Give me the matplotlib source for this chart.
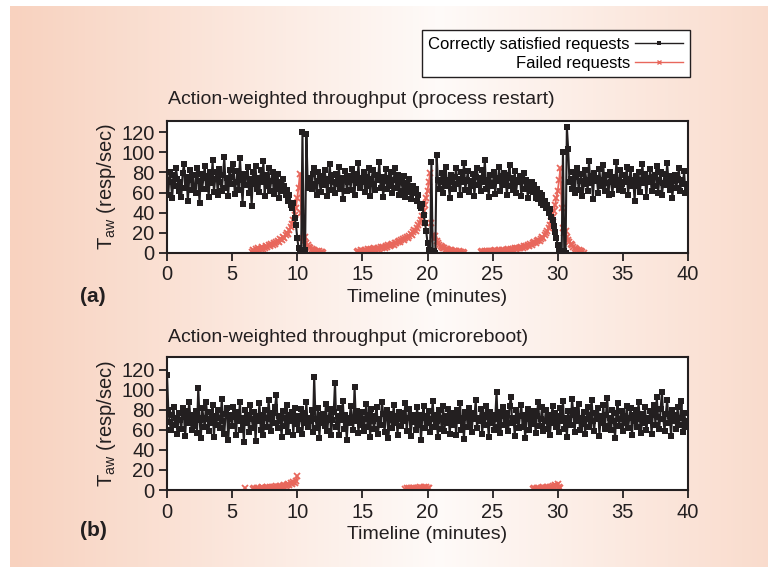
import numpy as np
import matplotlib
matplotlib.use("Agg")
import matplotlib.pyplot as plt
from matplotlib.lines import Line2D

plt.rcParams['font.family'] = ['Liberation Sans Narrow', 'Liberation Sans', 'DejaVu Sans']

# ---------------- data (sampled every 0.1 min) ----------------
step = 0.1

black_a = [
    72, 58, 80, 70, 55, 77, 66, 84, 73, 62,
    70, 56, 79, 88, 65, 75, 52, 72, 82, 63,
    77, 66, 60, 84, 71, 50, 78, 64, 74, 86,
    64, 76, 56, 80, 69, 92, 61, 73, 80, 58,
    83, 70, 62, 77, 95, 65, 74, 57, 82, 68,
    75, 88, 59, 70, 81, 63, 94, 72, 49, 78,
    67, 77, 85, 60, 73, 47, 80, 68, 86, 64,
    74, 61, 82, 70, 91, 57, 77, 66, 84, 62,
    71, 80, 59, 74, 64, 78, 55, 70, 62, 73,
    66, 58, 63, 52, 58, 48, 45, 50, 35, 28,
    15, 5, 0, 2, 120, 0, 3, 118, 70, 65,
    74, 64, 78, 84, 68, 58, 80, 71, 61, 76,
    67, 82, 73, 57, 71, 88, 63, 77, 70, 60,
    78, 68, 85, 64, 74, 54, 72, 81, 62, 70,
    76, 63, 83, 72, 58, 78, 69, 89, 65, 74,
    70, 80, 61, 75, 66, 84, 57, 73, 82, 68,
    63, 77, 72, 90, 65, 75, 56, 71, 83, 64,
    74, 66, 80, 60, 72, 84, 65, 77, 58, 70,
    71, 62, 76, 56, 69, 61, 73, 54, 63, 66,
    60, 64, 52, 58, 47, 45, 49, 38, 30, 22,
    10, 3, 0, 90, 0, 2, 0, 97, 72, 64,
    70, 79, 60, 73, 85, 66, 72, 55, 77, 70,
    64, 75, 84, 68, 73, 58, 80, 70, 89, 63,
    72, 81, 61, 71, 66, 78, 57, 75, 84, 67,
    74, 62, 82, 70, 92, 64, 72, 56, 77, 69,
    66, 80, 59, 74, 71, 85, 62, 76, 67, 79,
    71, 58, 77, 87, 66, 74, 63, 81, 60, 72,
    70, 76, 57, 71, 79, 64, 72, 55, 68, 62,
    70, 61, 67, 55, 64, 54, 60, 50, 58, 48,
    52, 45, 48, 40, 44, 36, 33, 27, 21, 15,
    8, 3, 0, 0, 100, 2, 0, 125, 103, 70,
    73, 64, 80, 60, 75, 84, 63, 71, 78, 57,
    68, 82, 72, 62, 91, 69, 76, 54, 79, 71,
    74, 60, 83, 66, 72, 87, 62, 77, 69, 58,
    80, 70, 59, 75, 67, 90, 72, 63, 82, 68,
    62, 77, 70, 85, 58, 73, 83, 66, 72, 52,
    76, 66, 80, 61, 72, 88, 69, 78, 56, 74,
    70, 83, 62, 75, 66, 77, 86, 60, 72, 80,
    58, 69, 78, 67, 89, 72, 63, 76, 55, 71,
    77, 65, 73, 84, 62, 72, 68, 81, 60, 68,
]

black_b = [
    115, 80, 68, 60, 75, 83, 65, 72, 56, 77,
    70, 61, 82, 73, 54, 79, 67, 88, 71, 60,
    75, 64, 79, 57, 102, 70, 52, 82, 72, 63,
    88, 71, 59, 78, 67, 85, 53, 74, 65, 80,
    72, 62, 91, 69, 56, 76, 82, 50, 71, 75,
    64, 83, 73, 55, 78, 69, 88, 60, 72, 48,
    80, 67, 75, 58, 85, 71, 62, 78, 49, 74,
    69, 87, 60, 75, 55, 80, 72, 63, 90, 71,
    59, 77, 67, 83, 95, 62, 74, 69, 53, 79,
    72, 64, 85, 58, 75, 69, 78, 55, 82, 66,
    74, 60, 71, 81, 56, 77, 67, 88, 63, 72,
    69, 80, 58, 113, 71, 62, 82, 52, 75, 67,
    76, 64, 86, 59, 72, 81, 55, 70, 78, 107,
    63, 74, 55, 82, 70, 89, 61, 75, 50, 72,
    67, 84, 72, 60, 103, 69, 79, 57, 74, 65,
    78, 59, 71, 86, 63, 75, 53, 81, 69, 61,
    74, 83, 56, 71, 65, 88, 76, 58, 72, 80,
    52, 70, 76, 62, 85, 67, 74, 55, 78, 71,
    64, 77, 69, 87, 59, 72, 81, 54, 68, 75,
    71, 60, 83, 65, 75, 50, 72, 84, 62, 74,
    67, 79, 58, 71, 89, 63, 75, 69, 53, 80,
    72, 61, 84, 59, 74, 67, 81, 56, 71, 77,
    65, 75, 55, 80, 69, 87, 60, 72, 51, 78,
    74, 63, 82, 69, 58, 77, 71, 90, 62, 72,
    69, 81, 56, 75, 65, 84, 73, 53, 78, 67,
    75, 60, 71, 98, 63, 78, 57, 74, 83, 65,
    71, 77, 59, 84, 93, 67, 72, 54, 80, 69,
    62, 74, 85, 63, 75, 52, 71, 81, 60, 72,
    77, 66, 79, 57, 74, 88, 64, 71, 83, 59,
    69, 80, 61, 75, 55, 72, 84, 67, 77, 63,
    74, 58, 82, 69, 89, 61, 72, 53, 79, 71,
    65, 91, 75, 58, 80, 69, 86, 60, 72, 66,
    78, 56, 71, 83, 63, 75, 90, 69, 59, 77,
    71, 82, 54, 74, 67, 85, 61, 75, 92, 64,
    72, 60, 80, 69, 52, 77, 87, 64, 71, 79,
    59, 74, 67, 84, 62, 72, 82, 55, 75, 69,
    80, 63, 88, 71, 57, 76, 67, 83, 60, 72,
    69, 79, 56, 75, 85, 65, 93, 73, 61, 81,
    98, 71, 59, 76, 90, 67, 74, 54, 80, 69,
    75, 61, 83, 65, 72, 89, 58, 77, 69, 63,
]

# failed requests: episodes (start minute, values every 0.1 min)
red_a_starts = [6.5, 14.6, 24.1]
red_a_values = [
    [1, 3, 2, 4, 2, 5, 3, 4, 6, 4,
     5, 7, 6, 8, 7, 9, 8, 10, 9, 11,
     12, 11, 14, 13, 16, 15, 18, 20, 19, 23,
     26, 29, 33, 38, 45, 55, 65, 78, 40, 15,
     12, 16, 10, 8, 6, 5, 4, 3, 3, 2,
     2, 1, 2, 1, 1, 0],
    [1, 2, 1, 3, 2, 2, 3, 2, 4, 3,
     3, 4, 3, 5, 4, 4, 5, 4, 6, 5,
     6, 5, 7, 6, 8, 7, 8, 9, 8, 10,
     10, 11, 12, 11, 13, 14, 13, 15, 16, 15,
     17, 19, 18, 21, 23, 22, 25, 28, 30, 33,
     37, 42, 48, 55, 62, 70, 79,
     30, 18, 14, 17, 12, 10, 8, 7, 6, 5, 5, 4, 4, 3, 3, 3, 2, 2, 2, 2,
     1, 2, 1, 1, 1, 0],
    [1, 2, 1, 2, 1, 2, 2, 1, 2, 2,
     2, 3, 2, 2, 3, 2, 3, 3, 2, 3,
     3, 4, 3, 4, 3, 4, 5, 4, 5, 5,
     5, 6, 5, 7, 6, 7, 8, 7, 9, 8,
     10, 11, 10, 12, 13, 12, 14, 16, 15, 18,
     20, 22, 25, 28, 32, 36, 42, 48, 55, 62,
     72, 84,
     45, 25, 20, 22, 16, 13, 11, 9, 8, 6, 5, 4, 3, 3, 2, 2, 1, 0],
]

red_b_starts = [6.0, 6.6, 18.3, 28.1]
red_b_values = [
    [2],
    [1, 2, 1, 2, 2, 1, 2, 3, 2, 2,
     2, 3, 2, 3, 2, 3, 3, 2, 4, 3,
     3, 4, 3, 4, 5, 4, 5, 6, 5, 7,
     6, 8, 7, 9, 14],
    [1, 2, 1, 2, 2, 1, 2, 2, 1, 2, 2, 3, 2, 2, 3, 2, 3, 2, 2],
    [1, 2, 1, 2, 2, 1, 2, 2, 3, 2, 2, 3, 2, 3, 3, 4, 3, 5, 4, 6, 3, 2],
]

xticks = [0, 5, 10, 15, 20, 25, 30, 35, 40]
yticks = [0, 20, 40, 60, 80, 100, 120]

titles = ["Action-weighted throughput (process restart)",
          "Action-weighted throughput (microreboot)"]
panel_labels = ["(a)", "(b)"]
legend_labels = ["Correctly satisfied requests", "Failed requests"]

# ---------------- styling ----------------
W, H = 768, 567
BLACK = '#231f20'
RED = '#e8675c'

fig = plt.figure(figsize=(W / 100, H / 100), dpi=100)
fig.patch.set_facecolor('white')

# background gradient panel
bg = fig.add_axes([10 / W, 0, (W - 10) / W, 1 - 6 / H])
xs = np.linspace(0, 1, 400)
cx = (440 - 10) / (W - 10)
w = np.clip(np.abs(xs - cx) / max(cx, 1 - cx), 0, 1)
w = 0.1 + 0.9 * w ** 1.0
peach = np.array([248, 210, 191]) / 255.0
white = np.array([255, 255, 255]) / 255.0
row = white[None, :] * (1 - w[:, None]) + peach[None, :] * w[:, None]
img = np.repeat(row[None, :, :], 2, axis=0)
bg.imshow(img, aspect='auto', extent=[0, 1, 0, 1], interpolation='bilinear')
bg.set_axis_off()
bg.set_zorder(-10)


def px_axes(left, top, right, bottom):
    return fig.add_axes([left / W, 1 - bottom / H, (right - left) / W, (bottom - top) / H])


ax1 = px_axes(167, 121, 688, 253)
ax2 = px_axes(167, 357, 688, 490)

t_a = np.arange(len(black_a)) * step
t_b = np.arange(len(black_b)) * step

for ax, blk, tb, starts, vals, ytop in [
        (ax1, black_a, t_a, red_a_starts, red_a_values, 131),
        (ax2, black_b, t_b, red_b_starts, red_b_values, 132.5)]:
    ax.set_facecolor('white')
    for s, v in zip(starts, vals):
        tr = s + np.arange(len(v)) * step
        ax.plot(tr, v, color=RED, lw=1.3, marker='x', ms=4.5, mew=1.3, zorder=2)
    ax.plot(tb, blk, color=BLACK, lw=1.5, marker='s', ms=3.8, mew=0, zorder=3)
    ax.set_xlim(0, 40)
    ax.set_ylim(0, ytop)
    ax.set_xticks(xticks)
    ax.set_yticks(yticks)
    ax.tick_params(direction='out', length=6, width=1.3, labelsize=14.5,
                   colors=BLACK, pad=3)
    for sp in ax.spines.values():
        sp.set_linewidth(1.5)
        sp.set_color(BLACK)
    ax.set_xlabel("Timeline (minutes)", fontsize=14, color=BLACK, labelpad=3)
    ax.set_ylabel("T$_{\\mathregular{aw}}$ (resp/sec)", fontsize=14.5, color=BLACK, labelpad=2)

fig.text(168 / W, 1 - 100 / H, titles[0], fontsize=14, color=BLACK, va='center', ha='left')
fig.text(168 / W, 1 - 337 / H, titles[1], fontsize=14, color=BLACK, va='center', ha='left')
fig.text(80 / W, 1 - 297 / H, panel_labels[0], fontsize=15, fontweight='bold', color=BLACK, va='center')
fig.text(80 / W, 1 - 530 / H, panel_labels[1], fontsize=15, fontweight='bold', color=BLACK, va='center')

handles = [Line2D([], [], color=BLACK, lw=1.0, marker='s', ms=2.8, mew=0),
           Line2D([], [], color=RED, lw=1.0, marker='x', ms=3.5, mew=1.0)]
leg = fig.legend(handles, legend_labels, loc='upper right',
                 bbox_to_anchor=(690 / W, 1 - 30 / H), markerfirst=False,
                 fontsize=12, frameon=True, fancybox=False, framealpha=1,
                 edgecolor=BLACK, handlelength=2.9, handletextpad=0.3,
                 borderpad=0.4, labelspacing=0.25, borderaxespad=0)
leg.get_frame().set_linewidth(1.0)

fig.savefig('out.png', dpi=100, facecolor=fig.get_facecolor())
